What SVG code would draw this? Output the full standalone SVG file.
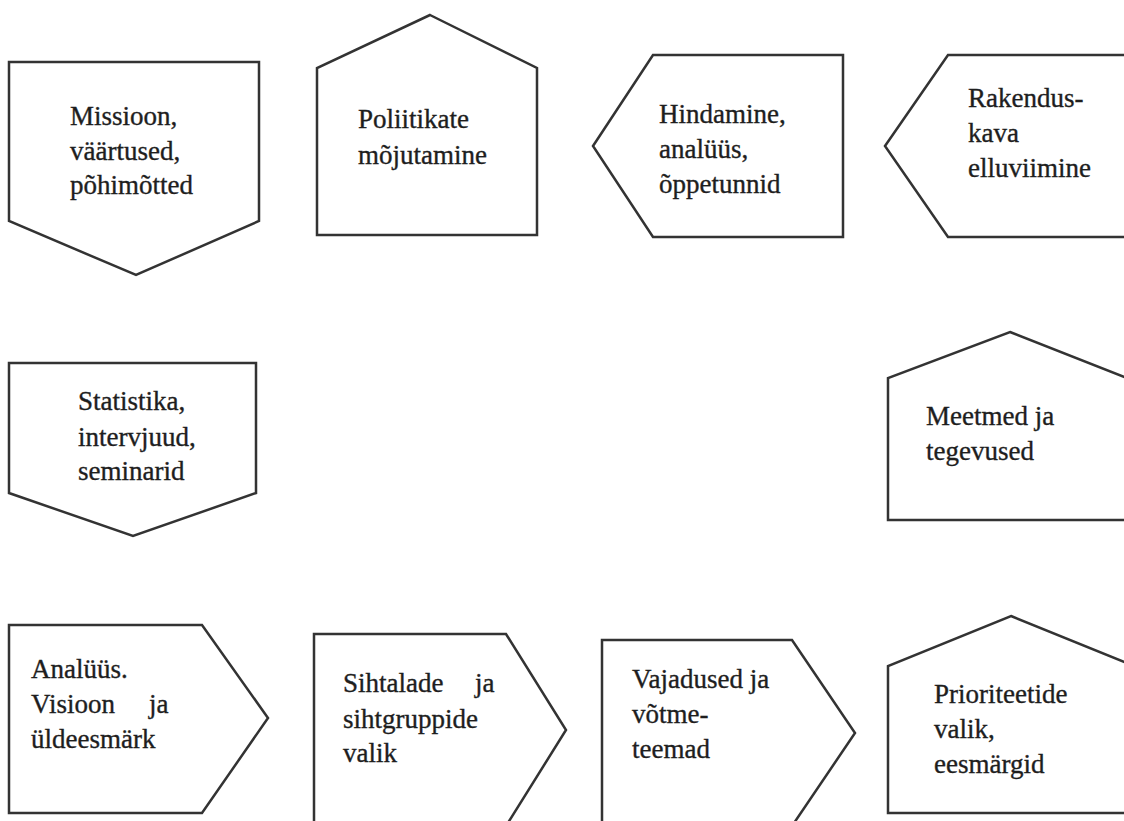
<svg xmlns="http://www.w3.org/2000/svg" width="1124" height="821" viewBox="0 0 1124 821">
<style>
.s{fill:#ffffff;stroke:#333333;stroke-width:2.5;stroke-linejoin:miter}
.t{font-family:'Liberation Serif','Times New Roman',serif;font-size:27px;fill:#1e1e1e;stroke:#1e1e1e;stroke-width:0.35}
</style>
<rect width="1124" height="821" fill="#ffffff"/>
<g id="connectors"/>
<g id="n1">
<polygon class="s" points="9,62 259,62 259,221 136,275 9,221"/>
<text class="t" x="70" y="125">Missioon,</text>
<text class="t" x="70" y="160">väärtused,</text>
<text class="t" x="70" y="194">põhimõtted</text>
</g>
<g id="n2">
<polygon class="s" points="430,15 537,68 537,235 317,235 317,68"/>
<text class="t" x="358" y="128">Poliitikate</text>
<text class="t" x="358" y="164">mõjutamine</text>
</g>
<g id="n3">
<polygon class="s" points="593,146 653,55 843,55 843,237 653,237"/>
<text class="t" x="659" y="123">Hindamine,</text>
<text class="t" x="659" y="158">analüüs,</text>
<text class="t" x="659" y="193">õppetunnid</text>
</g>
<g id="n4">
<polygon class="s" points="885,146 948,55 1132,55 1132,237 948,237"/>
<text class="t" x="968" y="107">Rakendus-</text>
<text class="t" x="968" y="142">kava</text>
<text class="t" x="968" y="177">elluviimine</text>
</g>
<g id="n5">
<polygon class="s" points="9,363 256,363 256,493 133,536 9,493"/>
<text class="t" x="78" y="410">Statistika,</text>
<text class="t" x="78" y="446">intervjuud,</text>
<text class="t" x="78" y="480">seminarid</text>
</g>
<g id="n6">
<polygon class="s" points="1010,332 1132,380 1132,520 888,520 888,378"/>
<text class="t" x="926" y="425">Meetmed ja</text>
<text class="t" x="926" y="460">tegevused</text>
</g>
<g id="n7">
<polygon class="s" points="9,625 202,625 268,718 202,813 9,813"/>
<text class="t" x="31" y="678">Analüüs.</text>
<text class="t" x="31" y="713">Visioon</text>
<text class="t" x="149" y="713">ja</text>
<text class="t" x="31" y="748">üldeesmärk</text>
</g>
<g id="n8">
<polygon class="s" points="314,634 506,634 566,730 506,826 314,826"/>
<text class="t" x="343" y="692">Sihtalade</text>
<text class="t" x="475" y="692">ja</text>
<text class="t" x="343" y="728">sihtgruppide</text>
<text class="t" x="343" y="762">valik</text>
</g>
<g id="n9">
<polygon class="s" points="602,640 792,640 855,733 792,826 602,826"/>
<text class="t" x="632" y="688">Vajadused ja</text>
<text class="t" x="632" y="723">võtme-</text>
<text class="t" x="632" y="758">teemad</text>
</g>
<g id="n10">
<polygon class="s" points="1011,616 1134,666 1134,813 888,813 888,666"/>
<text class="t" x="934" y="703">Prioriteetide</text>
<text class="t" x="934" y="738">valik,</text>
<text class="t" x="934" y="773">eesmärgid</text>
</g>
</svg>
